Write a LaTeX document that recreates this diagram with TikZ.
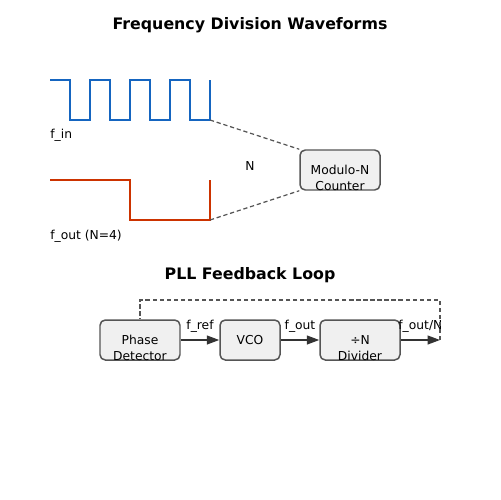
\documentclass[tikz,border=0pt]{standalone}
\usepackage{fontspec}
\setmainfont{DejaVu Sans}
\usetikzlibrary{arrows.meta,positioning}
\definecolor{sigblue}{RGB}{21,101,192}
\definecolor{sigred}{RGB}{204,51,0}
\definecolor{boxfill}{RGB}{240,240,240}
\definecolor{boxline}{RGB}{85,85,85}
\definecolor{arrowdark}{RGB}{51,51,51}

\tikzset{
  blk/.style={draw=boxline, fill=boxfill, line width=0.85pt, rounded corners=3pt, inner sep=0pt},
  lbl/.style={font=\fontsize{7}{8.8}\selectfont, inner sep=0pt, align=center},
  ttl/.style={font=\fontsize{9}{11}\selectfont\bfseries, inner sep=0pt},
  link/.style={draw=boxline, line width=0.7pt, dash pattern=on 2.4pt off 1.6pt},
  flow/.style={draw=arrowdark, line width=0.85pt, -{Triangle[length=7pt,width=5pt]}}
}

\begin{document}
\begin{tikzpicture}[x=0.02cm, y=-0.02cm]
\useasboundingbox (0,0) rectangle (500,500);

% Titoli
\node [ttl] (t1) at (250,25) {Frequency Division Waveforms};
\node [ttl] (t2) at (250,275) {PLL Feedback Loop};

% Segnale di ingresso
\draw [sigblue, line width=1.15pt]
  (50,80) -- (70,80) -- (70,120) -- (90,120) -- (90,80) -- (110,80) -- (110,120)
  -- (130,120) -- (130,80) -- (150,80) -- (150,120) -- (170,120) -- (170,80)
  -- (190,80) -- (190,120) -- (210,120) -- (210,80);
\coordinate (inEnd) at (210,120);
\node [lbl, anchor=west] (fin) at (50,135) {f\_in};

% Segnale diviso
\draw [sigred, line width=1.15pt]
  (50,180) -- (130,180) -- (130,220) -- (210,220) -- (210,180);
\coordinate (outEnd) at (210,220);
\node [lbl, anchor=west] (fout) at (50,236) {f\_out (N=4)};

% Contatore
\node [blk, minimum width=80*0.02cm, minimum height=40*0.02cm] (cnt) at (340,170) {};
\node [lbl] (cntT) at ([yshift=-0.16cm]cnt.center) {Modulo-N\\Counter};
\draw [link] (inEnd) -- (cnt.north west);
\draw [link] (outEnd) -- (cnt.south west);
\node [lbl] (nlbl) at (250,166) {N};

% Anello PLL
\node [blk, minimum width=80*0.02cm, minimum height=40*0.02cm] (pd) at (140,340) {};
\node [lbl] (pdT) at ([yshift=-0.16cm]pd.center) {Phase\\Detector};
\node [blk, minimum width=60*0.02cm, minimum height=40*0.02cm] (vco) at (250,340) {};
\node [lbl] (vcoT) at (vco.center) {VCO};
\node [blk, minimum width=80*0.02cm, minimum height=40*0.02cm] (div) at (360,340) {};
\node [lbl] (divT) at ([yshift=-0.16cm]div.center) {÷N\\Divider};
\coordinate (loopEnd) at (440,340);

\draw [flow] (pd.east) -- node [lbl, above=4pt] {f\_ref} (vco.west);
\draw [flow] (vco.east) -- node [lbl, above=4pt] {f\_out} (div.west);
\draw [flow] (div.east) -- node [lbl, above=4pt] {f\_out/N} (loopEnd);

% Retroazione
\draw [link] (loopEnd) -- (440,300) -- (140,300) -- (pd.north);

\end{tikzpicture}
\end{document}
